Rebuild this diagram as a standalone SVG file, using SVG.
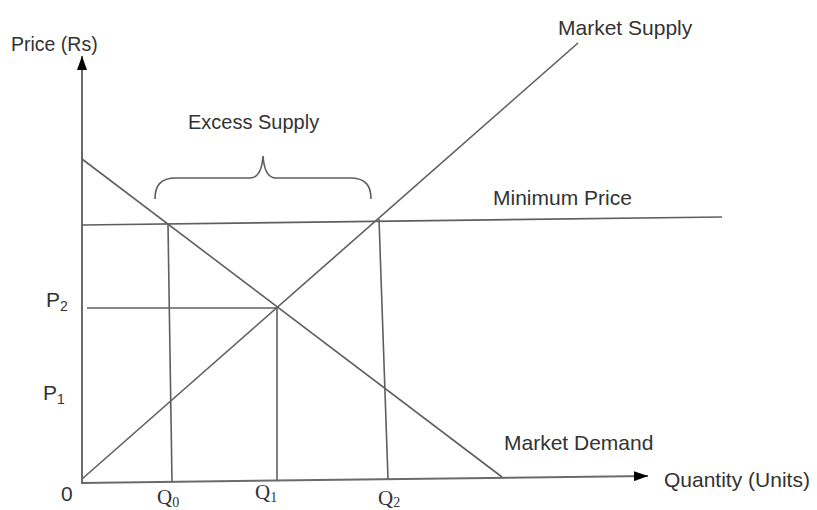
<svg xmlns="http://www.w3.org/2000/svg" width="817" height="510" viewBox="0 0 817 510">
  <style>
    .ln { stroke: #5f5f5f; stroke-width: 1.6; fill: none; stroke-linecap: butt; }
    .ax { stroke: #6a6a6a; stroke-width: 2; fill: none; }
    .lbl { font-family: "Liberation Sans", Arial, sans-serif; font-size: 21px; fill: #333; }
    .q { font-family: "Liberation Serif", "Times New Roman", serif; font-size: 21px; fill: #333; }
    .sub { font-size: 14px; }
  </style>
  <defs>
    <marker id="arrow" viewBox="0 0 14 10" refX="14" refY="5" markerWidth="14" markerHeight="10" markerUnits="userSpaceOnUse" orient="auto">
      <path d="M0,0 L14,5 L0,10 Z" fill="#000"/>
    </marker>
  </defs>
  <rect width="817" height="510" fill="#fff"/>

  <!-- axes -->
  <g id="axes">
    <line class="ax" x1="82" y1="484" x2="82" y2="56" marker-end="url(#arrow)"/>
    <line class="ax" x1="81" y1="483" x2="648" y2="476" marker-end="url(#arrow)"/>
  </g>

  <!-- curves, price floor and guide lines -->
  <g id="connectors">
    <line id="supply" class="ln" x1="82" y1="479" x2="578" y2="43"/>
    <line id="demand" class="ln" x1="82" y1="159" x2="502" y2="477"/>
    <line id="min-price" class="ln" x1="82" y1="225" x2="722" y2="217"/>
    <line id="p2-guide" class="ln" x1="87" y1="308" x2="277" y2="308"/>
    <line id="q0-guide" class="ln" x1="168" y1="225" x2="172" y2="482"/>
    <line id="q1-guide" class="ln" x1="277" y1="307" x2="277" y2="481"/>
    <line id="q2-guide" class="ln" x1="379" y1="219" x2="388" y2="479"/>
    <!-- brace spanning the surplus between Q0 and Q2 -->
    <path id="brace" class="ln" d="M155,199 C155,186 160,178 176,178 L250,178 C258,178 262,170 263,156 C264,170 268,178 276,178 L350,178 C366,178 371,186 371,199"/>
  </g>

  <!-- labels -->
  <g id="axis-labels">
    <text class="lbl" x="11" y="51" style="font-size:19.5px">Price (Rs)</text>
    <text class="lbl" x="664" y="487">Quantity (Units)</text>
    <text class="lbl" x="61" y="501">0</text>
  </g>
  <g id="curve-labels">
    <text class="lbl" x="558" y="35">Market Supply</text>
    <text class="lbl" x="504" y="450">Market Demand</text>
    <text class="lbl" x="493" y="205">Minimum Price</text>
    <text class="lbl" x="188" y="129" style="font-size:20px">Excess Supply</text>
  </g>
  <g id="price-labels">
    <text class="lbl" x="46" y="307">P<tspan class="sub" dy="4">2</tspan></text>
    <text class="lbl" x="43" y="400">P<tspan class="sub" dy="4">1</tspan></text>
  </g>
  <g id="quantity-labels">
    <text class="q" x="157" y="504">Q<tspan class="sub" dy="3">0</tspan></text>
    <text class="q" x="255" y="499">Q<tspan class="sub" dy="3">1</tspan></text>
    <text class="q" x="378" y="505">Q<tspan class="sub" dy="2">2</tspan></text>
  </g>
</svg>
